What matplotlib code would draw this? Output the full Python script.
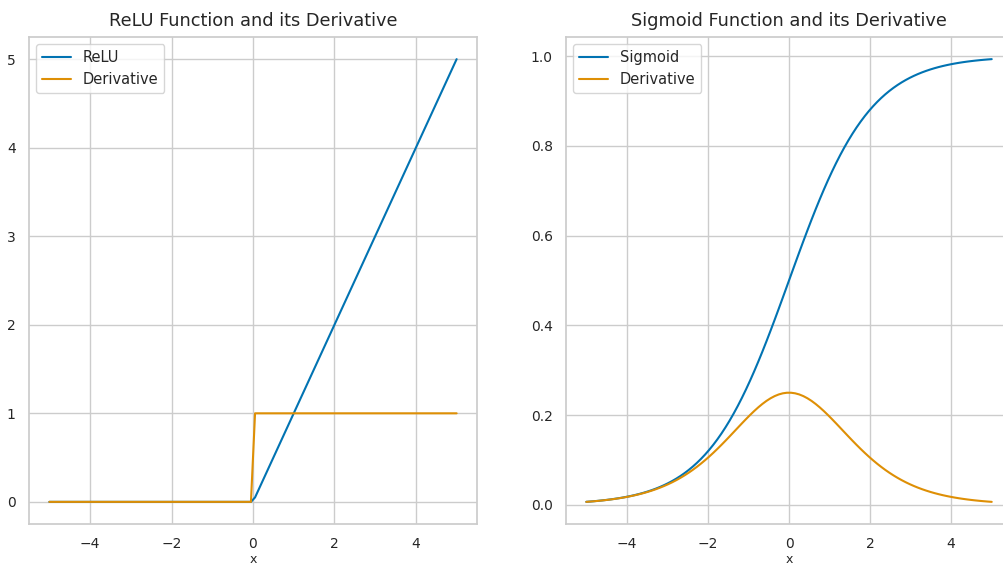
import numpy as np
import matplotlib
matplotlib.use("Agg")
import matplotlib.pyplot as plt
import seaborn as sns

sns.set_theme(style="whitegrid", palette="colorblind")
plt.rcParams["font.family"] = ["DejaVu Sans"]

# sample points along x (the functions are evaluated on this grid)
x = np.linspace(-5, 5, 100)
relu = np.maximum(0, x)
relu_grad = (x > 0).astype(float)
sigmoid = 1 / (1 + np.exp(-x))
sigmoid_grad = sigmoid * (1 - sigmoid)

W, H = 1004, 565
fig = plt.figure(figsize=(W / 100, H / 100), dpi=100)
ax1 = fig.add_axes([29 / W, 41 / H, 448 / W, 487 / H])
ax2 = fig.add_axes([566 / W, 41 / H, 446 / W, 487 / H])

ax1.plot(x, relu, label="ReLU")
ax1.plot(x, relu_grad, label="Derivative")
ax1.set_title("ReLU Function and its Derivative", fontsize=12.8, pad=8)
ax1.set_xlabel("x", fontsize=9, labelpad=1)
ax1.legend(loc="upper left", fontsize=10.5)

ax2.plot(x, sigmoid, label="Sigmoid")
ax2.plot(x, sigmoid_grad, label="Derivative")
ax2.set_title("Sigmoid Function and its Derivative", fontsize=12.8, pad=8)
ax2.set_xlabel("x", fontsize=9, labelpad=1)
ax2.legend(loc="upper left", fontsize=10.5)

for ax in (ax1, ax2):
    ax.tick_params(labelsize=10)

fig.savefig("out.png", dpi=100)
